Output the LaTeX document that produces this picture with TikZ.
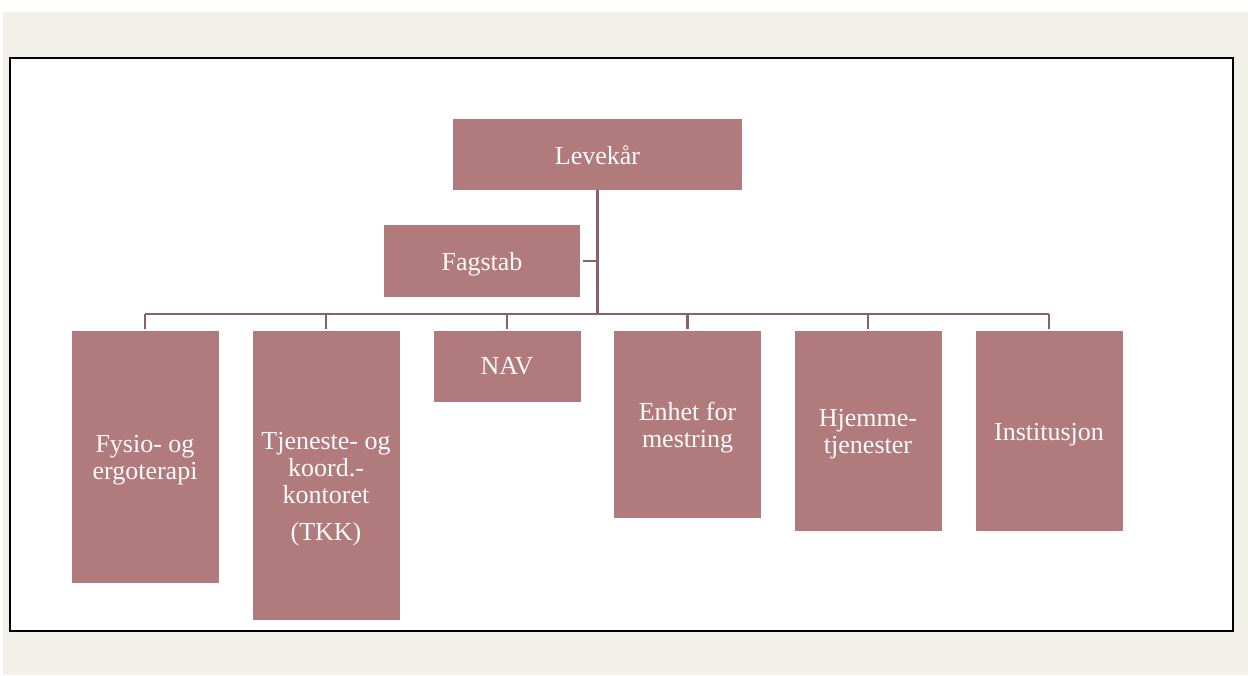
\documentclass[tikz,border=0pt]{standalone}
\usepackage{fontspec}
\setmainfont{Liberation Serif}
\definecolor{rosebox}{RGB}{177,123,126}
\definecolor{roseline}{RGB}{142,95,102}
\definecolor{pagebg}{RGB}{241,240,233}
\tikzset{
	unit/.style={fill=rosebox, inner sep=0pt},
	tag/.style={text=white!96!rosebox, inner sep=0pt, align=center, yshift=-3.5pt,
		font=\fontsize{26}{27}\selectfont},
	link/.style={draw=roseline, line width=2.8pt},
}
\begin{document}
\begin{tikzpicture}[x=1pt, y=-1pt]
	
	\useasboundingbox (0,0) rectangle (1248,675);
	\fill[pagebg] (3,12) rectangle (1248,675);
	\draw[fill=white, line width=2.2pt] (10,58) rectangle (1233,631);
	
	\node[unit, minimum width=289pt, minimum height=71pt,
		label={[tag, yshift=2.5pt]center:Levekår}] (levekar) at (597.5,154.5) {};
	\node[unit, minimum width=196pt, minimum height=72pt,
		label={[tag]center:Fagstab}] (fagstab) at (482,261) {};
	
	\node[unit, minimum width=147pt, minimum height=252pt,
		label={[tag]center:{Fysio- og\\ergoterapi}}] (fysio) at (145,457) {};
	\node[unit, minimum width=147pt, minimum height=289pt,
		label={[tag, yshift=-10pt]center:{Tjeneste- og\\koord.-\\kontoret\\[10pt](TKK)}}] (tkk) at (326,475.5) {};
	\node[unit, minimum width=147pt, minimum height=71pt,
		label={[tag, yshift=3.5pt]center:NAV}] (nav) at (507,366.5) {};
	\node[unit, minimum width=147pt, minimum height=187pt,
		label={[tag]center:{Enhet for\\mestring}}] (enhet) at (687.5,424.5) {};
	\node[unit, minimum width=147pt, minimum height=200pt,
		label={[tag]center:{Hjemme-\\tjenester}}] (hjemme) at (868,431) {};
	\node[unit, minimum width=147pt, minimum height=200pt,
		label={[tag]center:Institusjon}] (inst) at (1049,431) {};
	
	\coordinate (bus) at (597.5,314);
	
	\draw[link] (levekar.south) -- (bus);
	\draw[link, shorten <=3pt] (fagstab.east) -- (fagstab.east -| bus);
	\draw[link] (fysio.north |- bus) -- (inst.north |- bus);
	\foreach \n in {fysio,tkk,nav,enhet,hjemme,inst}
		\draw[link, shorten <=1.5pt] (\n.north) -- (\n.north |- bus);
	
\end{tikzpicture}
\end{document}
